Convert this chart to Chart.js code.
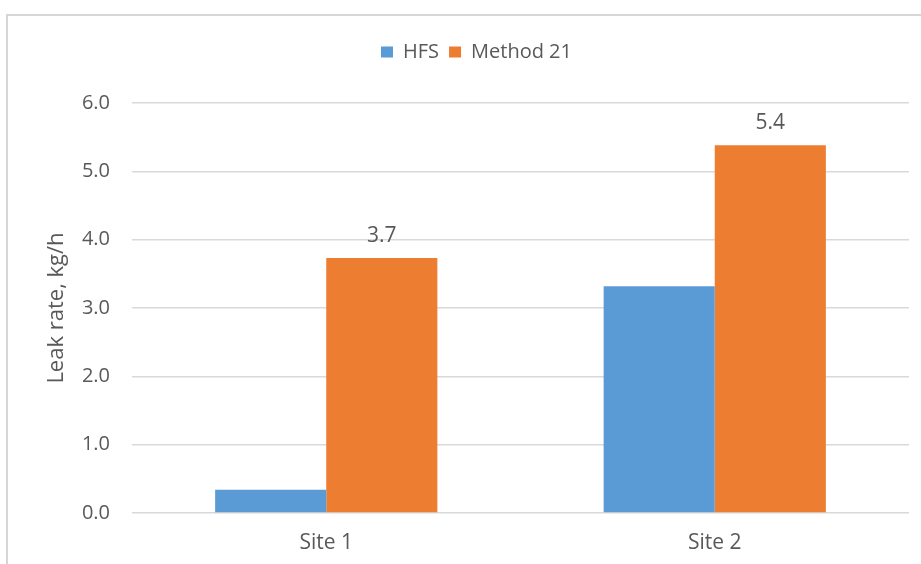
<!DOCTYPE html>
<html>
<head>
<meta charset="utf-8">
<script src="https://cdn.jsdelivr.net/npm/chart.js@4/dist/chart.umd.min.js"></script>
<style>
  html, body { margin: 0; padding: 0; background: #ffffff; }
  canvas { display: block; }
</style>
</head>
<body>
<canvas id="c" width="921" height="564"></canvas>
<script>
// ---- data ----
const categories = ["Site 1", "Site 2"];
const seriesNames = ["HFS", "Method 21"];
const hfsValues = [0.34, 3.32];
const method21Values = [3.73, 5.38];
const yTickMin = 0;
const yTickMax = 6;
const yTickStep = 1;
const yAxisTitle = "Leak rate, kg/h";

const FONT = "'Open Sans', 'Noto Sans', sans-serif";
const TEXT = "#595959";

const frame = {
  id: "frame",
  beforeDraw(chart) {
    const ctx = chart.ctx;
    ctx.save();
    ctx.fillStyle = "#ffffff";
    ctx.fillRect(0, 0, chart.width, chart.height);
    ctx.strokeStyle = "#d6d6d6";
    ctx.lineWidth = 2;
    ctx.beginPath();
    ctx.moveTo(chart.width, 15);
    ctx.lineTo(7, 15);
    ctx.lineTo(7, chart.height);
    ctx.stroke();
    ctx.restore();
  }
};

const valueLabels = {
  id: "valueLabels",
  afterDatasetsDraw(chart) {
    const ctx = chart.ctx;
    ctx.save();
    ctx.fillStyle = TEXT;
    ctx.font = "21px " + FONT;
    ctx.textAlign = "center";
    ctx.textBaseline = "alphabetic";
    chart.data.datasets.forEach((ds, di) => {
      if (!ds.showValues) return;
      chart.getDatasetMeta(di).data.forEach((bar, i) => {
        ctx.fillText(Number(ds.data[i]).toFixed(1), bar.x, bar.y - 16);
      });
    });
    ctx.restore();
  }
};

new Chart(document.getElementById("c"), {
  type: "bar",
  data: {
    labels: categories,
    datasets: [
      { label: seriesNames[0], data: hfsValues, backgroundColor: "#5B9BD5",
        barPercentage: 1, categoryPercentage: 0.572, showValues: false },
      { label: seriesNames[1], data: method21Values, backgroundColor: "#ED7D31",
        barPercentage: 1, categoryPercentage: 0.572, showValues: true }
    ]
  },
  options: {
    responsive: false,
    animation: false,
    layout: { padding: { left: 44, right: 12, top: 32, bottom: 11 } },
    plugins: {
      legend: {
        position: "top",
        weight: 1000,
        labels: { boxWidth: 12, boxHeight: 11, padding: 10, color: TEXT,
                  font: { family: FONT, size: 20 } }
      },
      title: {
        display: true, text: "", position: "top", weight: 500,
        padding: 0, font: { size: 31, lineHeight: 1 }
      },
      tooltip: { enabled: false }
    },
    scales: {
      x: {
        grid: { display: false, drawTicks: false },
        border: { display: false },
        ticks: { color: TEXT, padding: 17, font: { family: FONT, size: 21 } },
        afterFit(scale) { scale.height = 40; }
      },
      y: {
        min: yTickMin, max: yTickMax,
        grid: { color: "#d9d9d9", lineWidth: 1.5, drawTicks: false },
        border: { display: false },
        ticks: { stepSize: yTickStep, color: TEXT, padding: 22,
                 font: { family: FONT, size: 20 },
                 callback: (v) => Number(v).toFixed(1) },
        title: { display: true, text: yAxisTitle, color: TEXT,
                 padding: { top: 0, bottom: 0 },
                 font: { family: FONT, size: 22 } },
        afterFit(scale) { scale.width = 88; }
      }
    }
  },
  plugins: [frame, valueLabels]
});
</script>
</body>
</html>
